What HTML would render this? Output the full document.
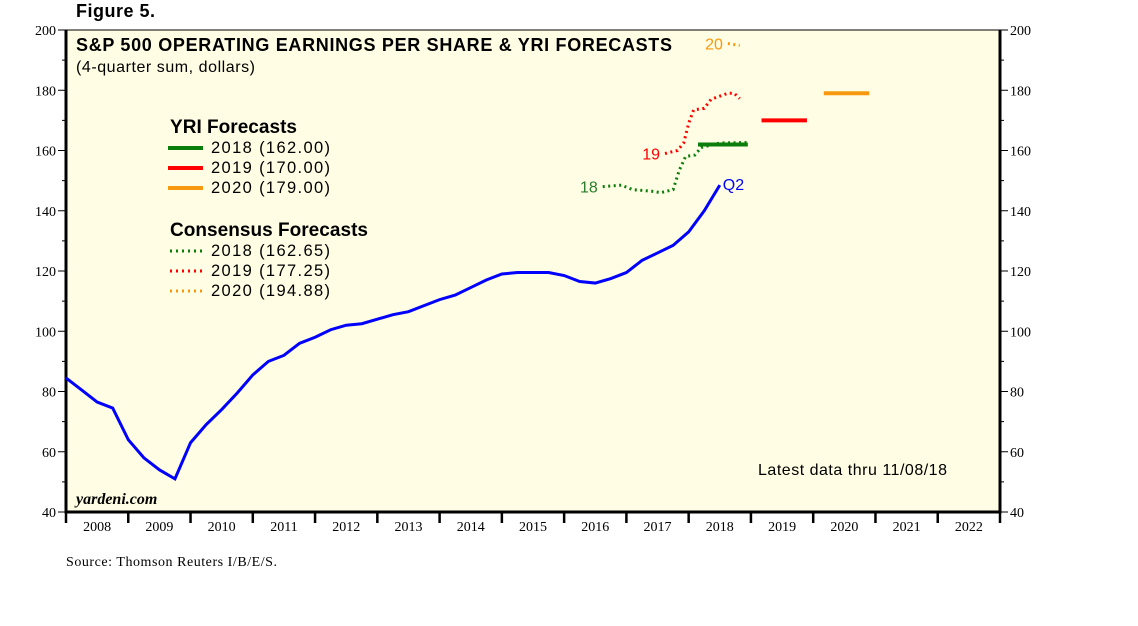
<!DOCTYPE html>
<html><head><meta charset="utf-8"><style>
body{margin:0;background:#fff;width:1138px;height:621px;overflow:hidden}
svg text{font-family:"Liberation Sans",sans-serif}
.ser{font-family:"Liberation Serif",serif}
</style></head><body>
<svg id="c" width="1138" height="621">
<text x="76" y="17" font-size="18" font-weight="bold" textLength="79">Figure 5.</text>
<rect x="66" y="30" width="934" height="482" fill="#fffde3" stroke="#000" stroke-width="1"/>
<text x="76" y="51" font-size="18" font-weight="bold" textLength="596">S&amp;P 500 OPERATING EARNINGS PER SHARE &amp; YRI FORECASTS</text>
<text x="76" y="72" font-size="16" textLength="179">(4-quarter sum, dollars)</text>
<g>
<text x="170" y="133" font-size="19" font-weight="bold" textLength="127">YRI Forecasts</text>
<line x1="168" y1="148" x2="203" y2="148" stroke="#0a7d0a" stroke-width="4"/><text x="211" y="153" font-size="16.5" textLength="119">2018 (162.00)</text>
<line x1="168" y1="168" x2="203" y2="168" stroke="#f00" stroke-width="4"/><text x="211" y="173" font-size="16.5" textLength="119">2019 (170.00)</text>
<line x1="168" y1="188" x2="203" y2="188" stroke="#f7990f" stroke-width="4"/><text x="211" y="193" font-size="16.5" textLength="119">2020 (179.00)</text>
<text x="170" y="236" font-size="19" font-weight="bold" textLength="198">Consensus Forecasts</text>
<line x1="170" y1="251" x2="203" y2="251" stroke="#0a7d0a" stroke-width="3" stroke-dasharray="2 4"/><text x="211" y="256" font-size="16.5" textLength="119">2018 (162.65)</text>
<line x1="170" y1="271" x2="203" y2="271" stroke="#f00" stroke-width="3" stroke-dasharray="2 4"/><text x="211" y="276" font-size="16.5" textLength="119">2019 (177.25)</text>
<line x1="170" y1="291" x2="203" y2="291" stroke="#f7990f" stroke-width="3" stroke-dasharray="2 4"/><text x="211" y="296" font-size="16.5" textLength="119">2020 (194.88)</text>
</g>
<text x="758" y="475" font-size="16" textLength="189">Latest data thru 11/08/18</text>
<text x="76" y="504" font-size="16" font-style="italic" font-weight="bold" class="ser">yardeni.com</text>
<text x="66" y="566" font-size="14" class="ser" textLength="211">Source: Thomson Reuters I/B/E/S.</text>
<g id="axes"></g><g id="marks"></g>
</svg>
<script>
const yTicks=[40,60,80,100,120,140,160,180,200];
const years=[2008,2009,2010,2011,2012,2013,2014,2015,2016,2017,2018,2019,2020,2021,2022];
const epsActual=[84.5,80.5,76.5,74.5,64,58,54,51,63,69,74,79.5,85.5,90,92,96,98,100.5,102,102.5,104,105.5,106.5,108.5,110.5,112,114.5,117,119,119.5,119.5,119.5,118.5,116.5,116,117.5,119.5,123.5,126,128.5,133,140,148.5];
const cons18Dates=[2016.62,2016.92,2017.1,2017.4,2017.55,2017.75,2017.85,2017.95,2018.1,2018.2,2018.5,2018.95];
const cons18Vals=[148,148.5,147,146.5,146,147,153.5,158,158.5,161,162.5,162.65];
const cons19Dates=[2017.62,2017.82,2017.92,2018.0,2018.08,2018.25,2018.36,2018.63,2018.73,2018.82];
const cons19Vals=[159,160,162.5,169,173.5,174,177,179,179,177.25];
const cons20Dates=[2018.63,2018.82];
const cons20Vals=[195.5,194.88];
const yriYears=[2018,2019,2020];
const yriVals=[162,170,179];
const NS="http://www.w3.org/2000/svg";
const X0=66,X1=1000,Y0=512,Y1=30;
const xs=t=>X0+(t-2008)*(X1-X0)/15;
const ys=v=>Y0-(v-40)*(Y0-Y1)/160;
function mk(tag,at,par){const e=document.createElementNS(NS,tag);for(const k in at)e.setAttribute(k,at[k]);document.getElementById(par).appendChild(e);return e;}
const ax=mk('path',{d:`M${X0},${Y1}V${Y0}H${X1}V${Y1}`,fill:'none',stroke:'#000','stroke-width':3},'axes');


yTicks.forEach(v=>{
  const y=ys(v);
  mk('line',{x1:X0-8,x2:X0,y1:y,y2:y,stroke:'#000','stroke-width':1},'axes');
  mk('line',{x1:X1,x2:X1+8,y1:y,y2:y,stroke:'#000','stroke-width':1},'axes');
  if(v<200){const ym=ys(v+10);
  mk('line',{x1:X0-4,x2:X0,y1:ym,y2:ym,stroke:'#000'},'axes');
  mk('line',{x1:X1,x2:X1+4,y1:ym,y2:ym,stroke:'#000'},'axes');}
  const t=mk('text',{x:X0-10,y:y+5,'font-size':14,'text-anchor':'end',class:'ser'},'axes');t.textContent=v;
  
  
  const t2=mk('text',{x:X1+10,y:y+5,'font-size':14,class:'ser'},'axes');t2.textContent=v;
  
  
});
years.concat([2023]).forEach(yr=>{const x=xs(yr);mk('line',{x1:x,x2:x,y1:Y0,y2:Y0+11,stroke:'#000','stroke-width':2.5},'axes');});
years.forEach(yr=>{const t=mk('text',{x:xs(yr+0.5),y:Y0+19,'font-size':14,'text-anchor':'middle',class:'ser'},'axes');t.textContent=yr;
  
  });
const pa=mk('polyline',{points:epsActual.map((v,i)=>xs(2008+i/4)+','+ys(v)).join(' '),fill:'none',stroke:'#00f','stroke-width':3},'marks');


const q=mk('text',{x:xs(2008+(epsActual.length-1)/4)+3,y:ys(epsActual[epsActual.length-1])+5,'font-size':16,fill:'#00f'},'marks');q.textContent='Q2';


const cons=[[cons18Dates,cons18Vals,'#0a7d0a','18','#2a7d2a'],[cons19Dates,cons19Vals,'#f00','19','#f00'],[cons20Dates,cons20Vals,'#f7990f','20','#f7990f']];
cons.forEach(([d,v,c,lab,lc])=>{
  const p=mk('polyline',{points:d.map((t,i)=>xs(t)+','+ys(v[i])).join(' '),fill:'none',stroke:c,'stroke-width':3,'stroke-dasharray':'2 3.5'},'marks');
  
  
  const t=mk('text',{x:xs(d[0])-5,y:ys(v[0])+6,'font-size':16,fill:lc,'text-anchor':'end'},'marks');t.textContent=lab;
  
  
});
const yc=['#0a7d0a','#f00','#f7990f'];
yriYears.forEach((yr,i)=>{
  const a=i===0?yr+0.15:yr+0.17,b=i===0?yr+0.95:yr+0.9;
  const l=mk('line',{x1:xs(a),x2:xs(b),y1:ys(yriVals[i]),y2:ys(yriVals[i]),stroke:yc[i],'stroke-width':4},'marks');
  
  
});
</script>
</body></html>
